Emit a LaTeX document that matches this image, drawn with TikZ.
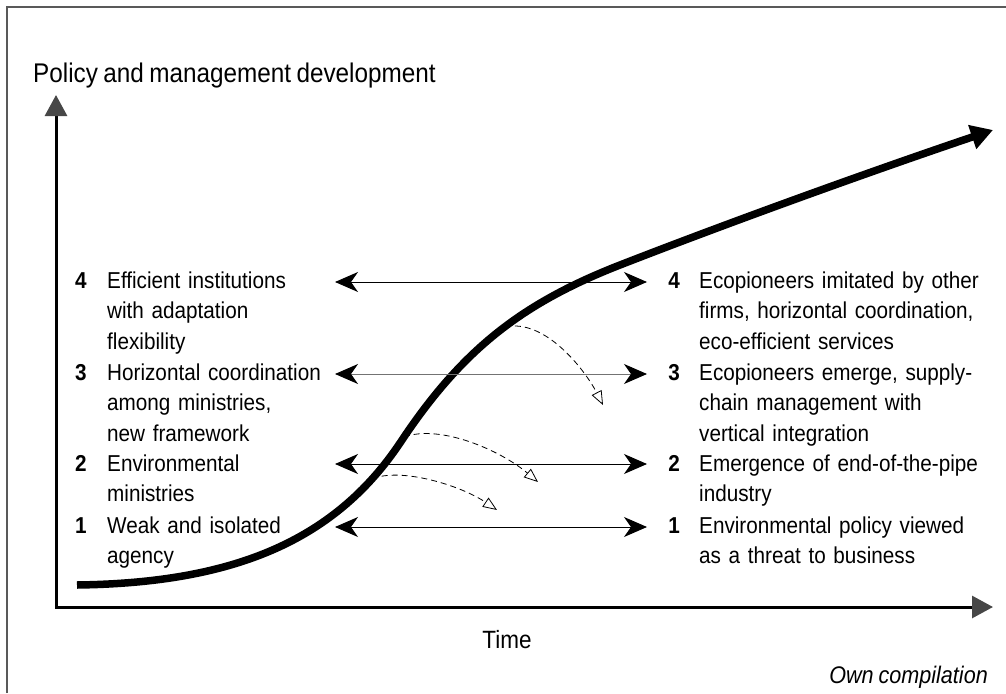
\documentclass[tikz,border=0pt]{standalone}
\usepackage{fontspec}
\setmainfont{Liberation Sans}[FakeStretch=0.9, WordSpace=0.8]
\usetikzlibrary{arrows.meta}

\tikzset{
  num/.style={font=\fontsize{23}{30.5}\selectfont\bfseries, anchor=base, inner sep=0pt},
  lbl/.style={font=\fontsize{23}{30.5}\selectfont, anchor=base west, inner sep=0pt, text width=320pt, align=left},
  twoway/.style={line width=1pt, {Stealth[length=23pt,width=20pt,inset=7pt,color=black]}-{Stealth[length=23pt,width=20pt,inset=7pt,color=black]}},
  drift/.style={line width=0.8pt, dash pattern=on 6pt off 4pt, -{Triangle[open,length=14pt,width=11pt,fill=white]}},
  axis/.style={line width=3pt, {Triangle[length=21pt,width=22pt,color=black!72]}-{Triangle[length=21pt,width=22pt,color=black!72]}},
}

\begin{document}
\begin{tikzpicture}[x=1pt,y=-1pt]
\useasboundingbox (0,0) rectangle (1006,693);
% frame
\draw[black!65, line width=1.5pt] (7,693) -- (7,7) -- (1006,7);

% axes
\coordinate (ytop) at (56,95);
\coordinate (orig) at (56,607);
\coordinate (xend) at (993,607);
\draw[axis] (ytop) -- (orig) -- (xend);
\node[font=\fontsize{27}{30}\selectfont, anchor=base west, inner sep=0pt] (ylab) at (33,82) {Policy and management development};
\node[font=\fontsize{25}{30}\selectfont, anchor=base, inner sep=0pt] (time) at (507,648) {Time};
\node[font=\fontsize{24}{30}\selectfont\itshape, anchor=base east, inner sep=0pt] (src) at (988,683) {Own compilation};

% development curve
\coordinate (c0) at (77,585);
\coordinate (cj) at (400,443);
\coordinate (c7) at (620,265);
\coordinate (c10) at (993,130);
\draw[line width=7.5pt, -{Triangle[length=22pt,width=24pt]}]
  (c0) .. controls (230,583) and (333,543) .. (cj)
       .. controls (461,351) and (520,304) .. (c7)
       .. controls (720,226) and (860,175) .. (c10);
% points on the curve where the drifts start
\coordinate (c3) at (372,479);
\coordinate (c4) at (404,437);
\coordinate (c6) at (505,327);

% left column
\node[num] (n4l) at (81,288) {4};
\node[lbl] (t4l) at (107,288) {Efficient institutions\\with adaptation\\flexibility};
\node[num] (n3l) at (81,380) {3};
\node[lbl] (t3l) at (107,380) {Horizontal coordination\\among ministries,\\new framework};
\node[num] (n2l) at (81,471) {2};
\node[lbl] (t2l) at (107,471) {Environmental\\ministries};
\node[num] (n1l) at (81,533) {1};
\node[lbl] (t1l) at (107,533) {Weak and isolated\\agency};

% right column
\node[num] (n4r) at (674,288) {4};
\node[lbl] (t4r) at (699,288) {Ecopioneers imitated by other\\firms, horizontal coordination,\\eco-efficient services};
\node[num] (n3r) at (674,380) {3};
\node[lbl] (t3r) at (699,380) {Ecopioneers emerge, supply-\\chain management with\\vertical integration};
\node[num] (n2r) at (674,471) {2};
\node[lbl] (t2r) at (699,471) {Emergence of end-of-the-pipe\\industry};
\node[num] (n1r) at (674,533) {1};
\node[lbl] (t1r) at (699,533) {Environmental policy viewed\\as a threat to business};

% links between the columns
\coordinate (a4l) at (335,282); \coordinate (a4r) at (647,282);
\coordinate (a3l) at (335,374); \coordinate (a3r) at (647,374);
\coordinate (a2l) at (335,464); \coordinate (a2r) at (647,464);
\coordinate (a1l) at (335,527); \coordinate (a1r) at (647,527);
\draw[twoway] (a4l) -- (a4r);
\draw[twoway, draw=black!55] (a3l) -- (a3r);
\draw[twoway] (a2l) -- (a2r);
\draw[twoway] (a1l) -- (a1r);

% dashed drifts
\coordinate (d3) at (603,405);
\coordinate (d2) at (538,482);
\coordinate (d1) at (497,510);
\draw[drift] (c6) .. controls (545,318) and (585,370) .. (d3);
\draw[drift] (c4) .. controls (440,424) and (500,450) .. (d2);
\draw[drift] (c3) .. controls (400,467) and (460,485) .. (d1);
\end{tikzpicture}
\end{document}
